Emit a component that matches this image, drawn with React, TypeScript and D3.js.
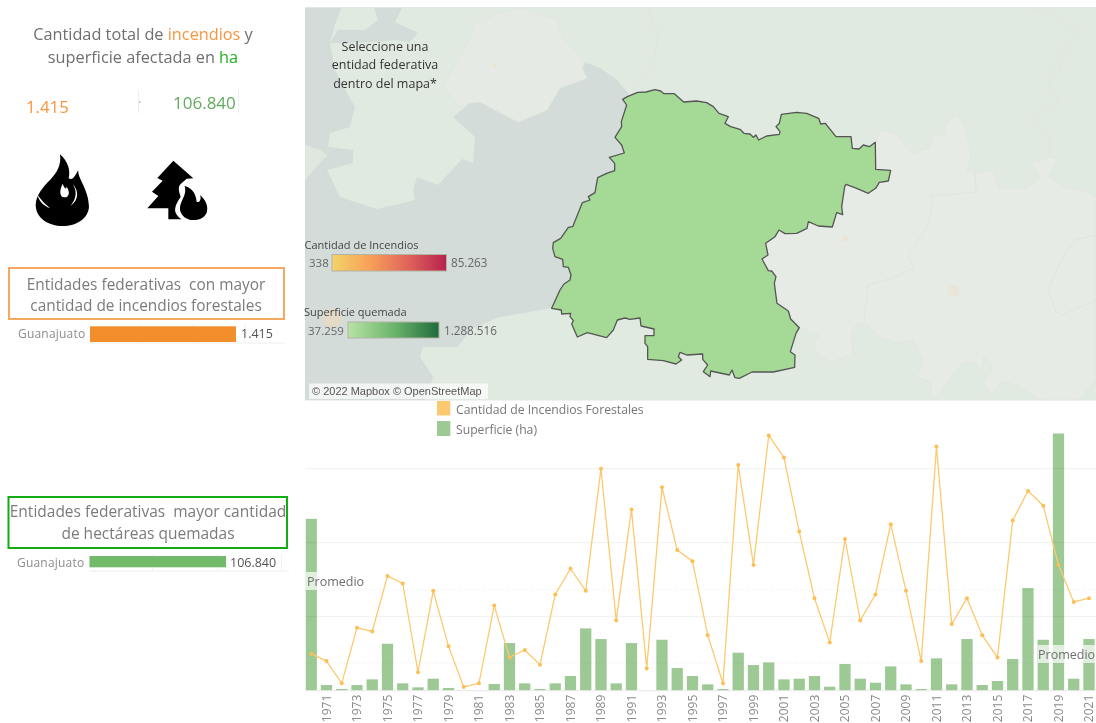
import React, { useEffect, useRef } from "react";
import * as d3 from "d3";

const years = d3.range(1970, 2022).map(String);
const tickYears = years.filter((y) => +y % 2 === 1);
const fires = [10,8,2,17,16,31,29,5,27,12,1,2,23,9,11,7,26,33,27,60,19,49,6,55,38,35,15,2,61,34,69,63,43,25,13,41,19,26,45,27,8,66,18,25,15,9,46,54,50,34,24,25];
const hectares = [12719,419,123,419,838,3476,542,247,887,197,25,0,493,3525,542,123,542,1085,4610,3821,542,3525,0,3771,1676,1085,468,123,2810,1898,2095,838,887,1085,296,1972,887,592,1799,468,123,2391,468,3821,419,715,2342,7592,3771,19030,887,3821];
const gridFires = [0, 20, 40, 60];

type P = [number, number];
// Guanajuato outline, in map units
const stateRing: P[] = [[248,58],[262,50],[293,37],[318,36],[345,29],[362,33],[372,41],[403,41],[431,66],[470,63],[500,68],[520,80],[537,100],[565,110],[555,130],[572,140],[600,148],[612,160],[630,162],[640,172],[648,165],[656,180],[680,168],[718,163],[720,155],[708,140],[718,130],[724,103],[770,97],[800,100],[836,115],[842,132],[856,130],[888,170],[933,170],[937,205],[957,207],[970,195],[988,200],[1006,187],[1007,268],[1052,271],[1045,303],[1018,307],[1007,325],[985,340],[950,325],[918,313],[914,320],[905,380],[908,404],[890,398],[877,441],[835,438],[805,425],[801,445],[770,460],[735,461],[717,450],[705,470],[677,490],[684,525],[666,537],[685,572],[695,573],[708,590],[703,610],[711,670],[745,693],[752,717],[778,743],[768,760],[751,815],[765,825],[764,862],[700,876],[636,876],[598,895],[585,893],[576,870],[568,885],[512,873],[510,890],[490,875],[503,855],[488,838],[488,822],[440,825],[420,817],[415,830],[425,840],[408,852],[370,842],[323,838],[323,800],[315,790],[315,767],[342,767],[342,747],[303,738],[300,714],[270,718],[255,714],[232,720],[220,750],[200,773],[142,758],[112,771],[95,732],[100,722],[90,710],[92,700],[65,702],[64,690],[35,685],[60,630],[72,612],[90,600],[93,585],[85,562],[70,560],[68,538],[45,530],[38,505],[40,488],[62,475],[85,442],[98,440],[127,368],[150,360],[145,350],[165,338],[173,293],[200,280],[224,272],[224,250],[208,232],[253,219],[245,195],[225,172],[245,140],[244,125],[260,75]];
const darkLand: P[] = [[305,8],[341,8],[335,25],[330,43],[335,70],[347,93],[355,107],[350,127],[330,133],[328,147],[353,150],[353,163],[327,170],[340,197],[377,209],[415,200],[413,190],[417,177],[438,185],[462,159],[473,163],[475,137],[453,117],[470,103],[480,102],[518,122],[530,117],[547,110],[560,88],[587,78],[582,68],[585,62],[600,68],[617,80],[628,93],[660,200],[552,308],[500,317],[473,328],[457,347],[423,347],[420,357],[433,377],[430,387],[425,400],[305,400]];
const darkBand: P[] = [[374,8],[402,8],[395,22],[418,33],[410,42],[395,40],[375,42],[345,43],[330,43],[338,30],[365,30],[378,20]];
const leftIsland: P[] = [[305,145],[320,150],[327,155],[305,180]];
const paleNorth: P[] = [[473,23],[500,13],[520,8],[538,13],[558,20],[563,40],[585,62],[582,68],[587,78],[560,88],[547,110],[530,117],[518,122],[480,102],[470,103],[460,107],[443,87],[473,33]];
const paleEast: P[] = [[876,142],[879,130],[893,132],[913,153],[929,148],[933,135],[944,135],[946,123],[958,115],[966,130],[971,155],[967,170],[976,173],[993,170],[999,188],[1026,188],[1041,177],[1031,163],[1051,157],[1057,160],[1048,177],[1063,187],[1083,190],[1096,197],[1096,380],[1079,400],[1041,400],[1016,385],[1001,382],[991,395],[983,382],[991,372],[991,363],[984,357],[981,370],[974,363],[964,362],[954,373],[936,398],[931,398],[931,382],[916,377],[923,363],[913,340],[896,343],[879,337],[866,324],[857,324],[851,333],[853,354],[831,362],[818,355],[813,343],[819,335],[799,327],[780,300],[760,270],[760,200]];
const borderA: P[] = [[931,195],[933,200],[929,223],[916,243],[908,257],[914,268],[896,277],[868,285],[864,323]];
const borderB: P[] = [[931,195],[949,195],[976,192],[975,173]];
const borderC: P[] = [[1029,8],[1043,10],[1059,20],[1078,30],[1066,45],[1059,70],[1051,72],[1049,87],[1059,100],[1036,117],[1036,123],[1049,140],[1051,157]];
const borderD: P[] = [[647,8],[658,33],[653,63],[633,90]];
const borderE: P[] = [[1096,235],[1075,240],[1060,262],[1048,290],[1056,312],[1062,315],[1096,300]];
const spots: [number, number, number, number][] = [[332,318,10,0.5],[845,239,3,0.3],[954,291,6,0.25],[495,66,2,0.4]];

const legendFire = ["#f2d46a", "#f7a058", "#e0635a", "#b8214e"];
const legendArea = ["#b8e3a6", "#6cb56c", "#1f6b3c"];

const FONT = "'Open Sans', sans-serif";
const W = 1096, H = 723;
const base = 690.7;

const xBand = d3.scaleBand<string>().domain(years).range([303.6, 1096.6]).paddingInner(0.26).paddingOuter(0.13);
const yFires = d3.scaleLinear().domain([0, 60]).range([base, 468.7]);
const yArea = d3.scaleLinear().domain([0, 19030]).range([base, 433.5]);
const sx = d3.scaleLinear().domain([0, 1080]).range([540, 900]);
const sy = d3.scaleLinear().domain([0, 930]).range([80, 390]);
const cx = (i: number) => (xBand(years[i]) as number) + xBand.bandwidth() / 2;
const poly = (pts: P[]) => "M" + pts.map((p) => p.join(",")).join("L") + "Z";
const open = (pts: P[]) => d3.line()(pts) as string;
const firePath = d3.line<number>().x((_, i) => cx(i)).y((d) => yFires(d));

function YearAxis() {
  const ref = useRef<SVGGElement>(null);
  useEffect(() => {
    const g = d3.select(ref.current as SVGGElement);
    g.call(d3.axisBottom(xBand).tickValues(tickYears).tickSize(0).tickPadding(0) as any);
    g.select(".domain").remove();
    g.selectAll("text")
      .attr("transform", "rotate(-90)")
      .attr("text-anchor", "end")
      .attr("dx", "-4")
      .attr("dy", "4.3")
      .attr("x", 0)
      .attr("y", 0)
      .attr("fill", "#8a8a8a")
      .style("font-family", FONT)
      .style("font-size", "12px");
  }, []);
  return <g ref={ref} transform={`translate(0,${base})`} />;
}

function FlameIcon() {
  return (
    <g transform="translate(20,145) scale(0.3333)">
      <path fill="#000" d="M120 28C145 50 152 78 146 100C160 108 164 92 175 76C172 100 205 130 207 185C205 220 170 243 128 243C85 243 48 220 47 180C48 150 70 125 90 105C110 85 125 60 120 28Z" />
      <path fill="#fff" d="M52 148C56 168 70 182 90 190C72 174 62 164 52 148Z" />
      <path fill="#fff" d="M128 116C118 135 118 155 132 157C148 158 152 140 138 122C143 132 135 136 128 116Z" />
      <path fill="#fff" d="M158 118C170 135 172 158 152 182C178 165 176 135 158 118Z" />
    </g>
  );
}

function TreeIcon() {
  return (
    <g transform="translate(140,150) scale(0.3333)">
      <path fill="#000" d="M100 32L160 85L140 86L122 102C112 112 118 128 122 140C112 155 103 170 106 186C110 196 116 203 125 208L85 208L85 175L22 175L55 138L36 125L68 92L52 84Z" />
      <path fill="#000" d="M134 108C160 115 168 135 170 155C176 160 186 150 180 135C198 150 206 170 200 188C192 206 172 212 152 210C132 206 118 190 120 172C122 150 142 135 134 108Z" />
    </g>
  );
}

function MiniBar({ y, h, x0, x1, color, value, labelX, valueX, baseLine, grid, lineY, lineEnd }: any) {
  return (
    <g>
      {grid.map((g: number) => <line key={g} x1={g} x2={g} y1={y - 2} y2={lineY} stroke="#f1f1f1" />)}
      <line x1={x0} x2={lineEnd} y1={lineY} y2={lineY} stroke="#eeeeee" />
      <rect x={x0} y={y} width={x1 - x0} height={h} fill={color} />
      <text x={labelX} y={baseLine} fontSize={12} fill="#8c8c8c" letterSpacing={0.2}>Guanajuato</text>
      <text x={valueX} y={baseLine} fontSize={12.5} fill="#555">{value}</text>
    </g>
  );
}

export default function App() {
  const avgFires = d3.mean(fires) as number;
  const avgArea = d3.mean(hectares) as number;
  return (
    <svg width={W} height={H} viewBox={`0 0 ${W} ${H}`} fontFamily={FONT}
      style={{ position: "absolute", left: 0, top: 0, display: "block", filter: "blur(0.45px)" }}>
      <defs>
        <clipPath id="mapClip"><rect x={305} y={7} width={791} height={393.5} /></clipPath>
        <clipPath id="chartClip"><rect x={305.5} y={401} width={790.5} height={322} /></clipPath>
        <linearGradient id="gradFire">
          {legendFire.map((c, i) => <stop key={c} offset={i / (legendFire.length - 1)} stopColor={c} />)}
        </linearGradient>
        <linearGradient id="gradArea">
          {legendArea.map((c, i) => <stop key={c} offset={i / (legendArea.length - 1)} stopColor={c} />)}
        </linearGradient>
      </defs>
      <rect width={W} height={H} fill="#fff" />

      {/* left panel */}
      <text x={143} y={40} textAnchor="middle" fontSize={16.3} fill="#6f6f6f">
        Cantidad total de <tspan fill="#f9953f">incendios</tspan> y
      </text>
      <text x={143} y={63} textAnchor="middle" fontSize={16.3} fill="#6f6f6f">
        superficie afectada en <tspan fill="#1fb51f">ha</tspan>
      </text>
      <text x={26} y={113} fontSize={16.8} fill="#f9953f">1.415</text>
      <text x={173} y={109} fontSize={17} fill="#62ab5e">106.840</text>
      <line x1={138.5} x2={138.5} y1={90} y2={113} stroke="#eee" />
      <line x1={238.5} x2={238.5} y1={90} y2={113} stroke="#eee" />
      <line x1={139} x2={140.5} y1={102} y2={102} stroke="#62ab5e" />
      <FlameIcon />
      <TreeIcon />

      <rect x={9} y={268} width={275} height={51} fill="none" stroke="#f5a860" strokeWidth={2} />
      <text x={146} y={289.5} textAnchor="middle" fontSize={15.4} fill="#7b7b7b" xmlSpace="preserve">Entidades federativas  con mayor</text>
      <text x={146} y={311} textAnchor="middle" fontSize={15.4} fill="#7b7b7b">cantidad de incendios forestales</text>
      <MiniBar y={326.3} h={15.7} x0={90} x1={236} color="#f28e2b" value="1.415" labelX={18} valueX={241} baseLine={338} grid={[141, 193, 245]} lineY={343} lineEnd={285} />

      <rect x={8.5} y={497} width={278.5} height={51} fill="none" stroke="#12ad12" strokeWidth={2} />
      <text x={148} y={517} textAnchor="middle" fontSize={15.5} fill="#7b7b7b" xmlSpace="preserve">Entidades federativas  mayor cantidad</text>
      <text x={148} y={538.5} textAnchor="middle" fontSize={15.5} fill="#7b7b7b">de hectáreas quemadas</text>
      <MiniBar y={556} h={11.3} x0={89.5} x1={226} color="#73b96a" value="106.840" labelX={17} valueX={230} baseLine={567} grid={[152.5, 217.5, 281.5]} lineY={571} lineEnd={289} />

      {/* map */}
      <g clipPath="url(#mapClip)">
        <rect x={305} y={7} width={791} height={394} fill="#e1eae1" />
        <path d={poly(darkLand)} fill="#d3dcd8" />
        <path d={poly(darkBand)} fill="#d3dcd8" />
        <path d={poly(leftIsland)} fill="#dfe8df" />
        <path d={poly(paleNorth)} fill="#e5ebe4" stroke="#dfe6de" />
        <path d={poly(paleEast)} fill="#e6ebe5" stroke="#e0e6de" />
        {[borderA, borderB, borderC, borderD, borderE].map((b, i) => (
          <path key={i} d={open(b)} fill="none" stroke="#dfe6dd" strokeWidth={1} />
        ))}
        {spots.map(([x, y, r, o], i) => <circle key={i} cx={x} cy={y} r={r} fill="#f3d9b5" opacity={o} />)}
        <path d={poly(stateRing.map(([x, y]) => [sx(x), sy(y)] as P))} fill="#a5da96" stroke="#555" strokeWidth={1.3} strokeLinejoin="round" />
      </g>
      <g fontSize={12.5} fill="#333" textAnchor="middle">
        <text x={385} y={51}>Seleccione una</text>
        <text x={385} y={69}>entidad federativa</text>
        <text x={385} y={88}>dentro del mapa*</text>
      </g>
      <text x={304.5} y={249} fontSize={11} fill="#444">Cantidad de Incendios</text>
      <text x={309} y={267} fontSize={11.5} fill="#666">338</text>
      <rect x={332} y={254.5} width={114.5} height={16.5} fill="url(#gradFire)" stroke="#b3b3a3" strokeWidth={1} />
      <text x={451} y={267} fontSize={11.7} fill="#666">85.263</text>
      <text x={304} y={316} fontSize={11} fill="#444">Superficie quemada</text>
      <text x={308} y={335} fontSize={11.5} fill="#666">37.259</text>
      <rect x={348} y={322} width={91} height={16} fill="url(#gradArea)" stroke="#b3b3a3" strokeWidth={1} />
      <text x={444} y={335} fontSize={11.7} fill="#666">1.288.516</text>
      <rect x={309} y={383.5} width={179} height={15.5} fill="#fff" opacity={0.7} />
      <text x={312} y={395} fontSize={11} fill="#555" fontFamily="'Liberation Sans', Arial, sans-serif">© 2022 Mapbox © OpenStreetMap</text>

      {/* chart legend */}
      <rect x={437} y={401} width={13.3} height={14.5} fill="#fdc970" />
      <text x={456} y={413.5} fontSize={12.2} fill="#777">Cantidad de Incendios Forestales</text>
      <rect x={437} y={421} width={13.3} height={15} fill="#9cc994" />
      <text x={456} y={434} fontSize={12.2} fill="#777">Superficie (ha)</text>

      {/* combo chart */}
      <g clipPath="url(#chartClip)">
        {hectares.map((v, i) => (
          <rect key={years[i]} x={xBand(years[i])} y={yArea(v)} width={xBand.bandwidth()} height={base - yArea(v)} fill="#9cc994" />
        ))}
        {gridFires.map((t) => (
          <line key={t} x1={305} x2={W} y1={yFires(t)} y2={yFires(t)} stroke={t === 0 ? "#e9e9e9" : "#000"} strokeOpacity={t === 0 ? 1 : 0.06} />
        ))}
        <line x1={305} x2={W} y1={yFires(avgFires)} y2={yFires(avgFires)} stroke="#000" strokeOpacity={0.08} strokeDasharray="1 2" />
        <line x1={305} x2={W} y1={yArea(avgArea)} y2={yArea(avgArea)} stroke="#000" strokeOpacity={0.08} strokeDasharray="1 2" />
        <path d={firePath(fires) as string} fill="none" stroke="#fdc970" strokeWidth={1.3} />
        {fires.map((v, i) => <circle key={years[i]} cx={cx(i)} cy={yFires(v)} r={2} fill="#fdbf55" />)}
        <rect x={306} y={572} width={58} height={18} fill="#fff" opacity={0.7} />
        <text x={307} y={586} fontSize={12.5} fill="#6f6f6f">Promedio</text>
        <rect x={1037.7} y={645} width={58.3} height={18} fill="#fff" opacity={0.7} />
        <text x={1038} y={659} fontSize={12.5} fill="#6f6f6f">Promedio</text>
      </g>
      <YearAxis />
    </svg>
  );
}
